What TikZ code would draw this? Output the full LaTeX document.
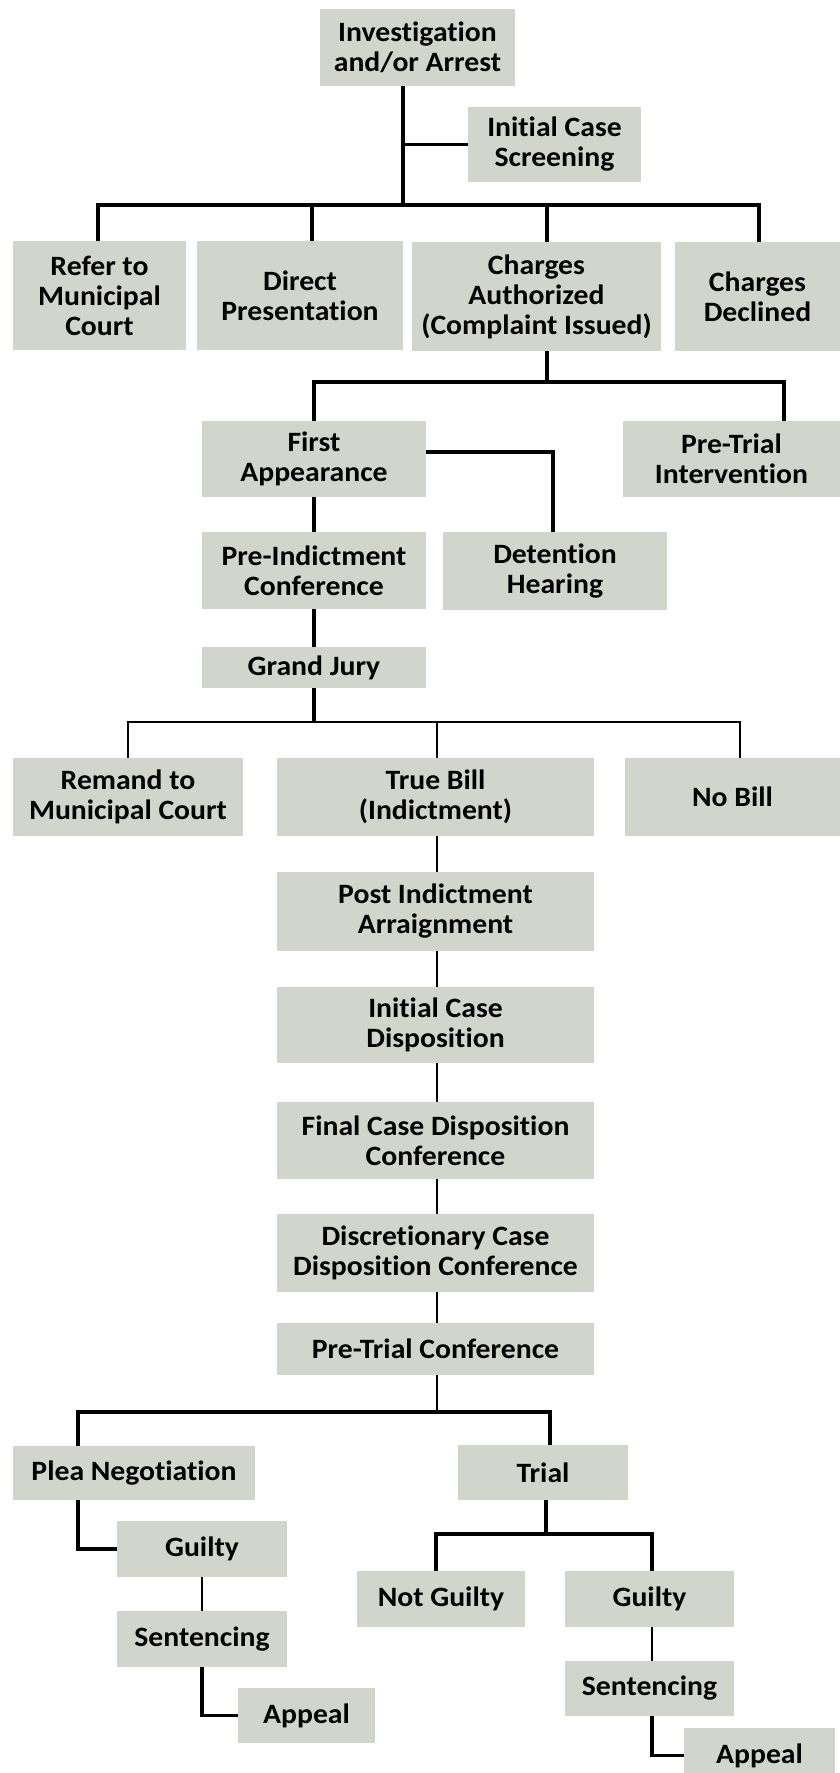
\documentclass[tikz,border=0pt]{standalone}
\usepackage{fontspec}
\setmainfont{Carlito}[FakeStretch=1.06,Ligatures=NoCommon]
\definecolor{boxfill}{RGB}{210,213,204}
\begin{document}
\begin{tikzpicture}[x=1pt,y=-1pt,
  bx/.style={fill=boxfill,draw=none,inner sep=0pt,align=center,
    font=\bfseries\fontsize{28}{30}\selectfont},
  thk/.style={line width=3.6pt},
  thn/.style={line width=2.2pt}]
\useasboundingbox[fill=white] (0,0) rectangle (840,1773);
% boxes
\node[bx,minimum width=195pt,minimum height=77pt] (inv) at (417.5,47.5) {Investigation\\and/or Arrest};
\node[bx,minimum width=173pt,minimum height=75pt] (ics) at (554.5,144.5) {Initial Case\\Screening};
\node[bx,minimum width=173pt,minimum height=109pt] (refer) at (99.5,295.5) {Refer to\\Municipal\\Court};
\node[bx,minimum width=206pt,minimum height=109pt] (direct) at (300,295.5) {Direct\\Presentation};
\node[bx,minimum width=249pt,minimum height=109pt] (auth) at (536.5,296.5) {Charges\\Authorized\\(Complaint Issued)};
\node[bx,minimum width=165pt,minimum height=109pt] (declined) at (757.5,296.5) {Charges\\Declined};
\node[bx,minimum width=224pt,minimum height=76pt] (first) at (314,459) {First\\Appearance};
\node[bx,minimum width=217pt,minimum height=76pt] (pti) at (731.5,459) {Pre-Trial\\Intervention};
\node[bx,minimum width=224pt,minimum height=77pt] (preind) at (314,570.5) {Pre-Indictment\\Conference};
\node[bx,minimum width=224pt,minimum height=78pt] (detention) at (555,571) {Detention\\Hearing};
\node[bx,minimum width=224pt,minimum height=41pt] (grand) at (314,667.5) {Grand Jury};
\node[bx,minimum width=230pt,minimum height=78pt] (remand) at (128,797) {Remand to\\Municipal Court};
\node[bx,minimum width=317pt,minimum height=78pt] (truebill) at (435.5,797) {True Bill\\(Indictment)};
\node[bx,minimum width=215pt,minimum height=78pt] (nobill) at (732.5,797) {No Bill};
\node[bx,minimum width=317pt,minimum height=79pt] (postind) at (435.5,911.5) {Post Indictment\\Arraignment};
\node[bx,minimum width=317pt,minimum height=76pt] (icd) at (435.5,1025) {Initial Case\\Disposition};
\node[bx,minimum width=317pt,minimum height=77pt] (fcd) at (435.5,1140.5) {Final Case Disposition\\Conference};
\node[bx,minimum width=317pt,minimum height=78pt] (dcd) at (435.5,1253) {Discretionary Case\\Disposition Conference};
\node[bx,minimum width=317pt,minimum height=52pt] (ptc) at (435.5,1349) {Pre-Trial Conference};
\node[bx,minimum width=242pt,minimum height=54pt] (plea) at (134,1473) {Plea Negotiation};
\node[bx,minimum width=170pt,minimum height=55pt] (trial) at (543,1472.5) {Trial};
\node[bx,minimum width=170pt,minimum height=56pt] (guiltyL) at (202,1549) {Guilty};
\node[bx,minimum width=170pt,minimum height=56pt] (sentL) at (202,1639) {Sentencing};
\node[bx,minimum width=137pt,minimum height=55pt] (appealL) at (306.5,1715.5) {Appeal};
\node[bx,minimum width=168pt,minimum height=56pt] (notg) at (441,1599) {Not Guilty};
\node[bx,minimum width=169pt,minimum height=56pt] (guiltyR) at (649.5,1599) {Guilty};
\node[bx,minimum width=169pt,minimum height=55pt] (sentR) at (649.5,1688.5) {Sentencing};
\node[bx,minimum width=151pt,minimum height=55pt] (appealR) at (759.5,1755.5) {Appeal};
% junctions
\coordinate (b1) at (403,205);
\coordinate (b2) at (547,382);
\coordinate (b3) at (314,722);
\coordinate (b4) at (437,1412);
\coordinate (b5) at (546,1534);
% connectors level 1
\draw[thk] (inv.south -| b1) -- (b1);
\draw[thk] (ics.west) -- (ics.west -| b1);
\draw[thk] ([xshift=-1.5pt]refer.north) |- ([xshift=1.5pt]declined.north |- b1) -- ([xshift=1.5pt]declined.north);
\draw[thk] ([xshift=12pt]direct.north) -- ([xshift=12pt]direct.north |- b1);
\draw[thk] ([xshift=10.5pt]auth.north) -- ([xshift=10.5pt]auth.north |- b1);
% level 2
\draw[thk] ([xshift=10.5pt]auth.south) -- (b2);
\draw[thk] (first.north) |- ([xshift=52.5pt]pti.north |- b2) -- ([xshift=52.5pt]pti.north);
\draw[thk] ([yshift=7pt]first.east) -| ([xshift=-2pt]detention.north);
\draw[thk] (first.south) -- (preind.north);
\draw[thk] (preind.south) -- (grand.north);
% grand jury
\draw[thk] (grand.south) -- (b3);
\draw[thn] (remand.north) |- ([xshift=7.5pt]nobill.north |- b3) -- ([xshift=7.5pt]nobill.north);
\draw[thn] ([xshift=1.5pt]truebill.north) -- ([xshift=1.5pt]truebill.north |- b3);
% main chain
\draw[thn] ([xshift=1.5pt]truebill.south) -- ([xshift=1.5pt]postind.north);
\draw[thn] ([xshift=1.5pt]postind.south) -- ([xshift=1.5pt]icd.north);
\draw[thn] ([xshift=1.5pt]icd.south) -- ([xshift=1.5pt]fcd.north);
\draw[thn] ([xshift=1.5pt]fcd.south) -- ([xshift=1.5pt]dcd.north);
\draw[thn] ([xshift=1.5pt]dcd.south) -- ([xshift=1.5pt]ptc.north);
% pre-trial split
\draw[thn] ([xshift=1.5pt]ptc.south) -- (b4);
\draw[thk] ([xshift=-56pt]plea.north) |- ([xshift=7pt]trial.north |- b4) -- ([xshift=7pt]trial.north);
% plea branch
\draw[thk] ([xshift=-56pt]plea.south) |- (guiltyL.west);
\draw[thn] (guiltyL.south) -- (sentL.north);
\draw[thk] (sentL.south) |- (appealL.west);
% trial branch
\draw[thk] ([xshift=3pt]trial.south) -- (b5);
\draw[thk] ([xshift=-5pt]notg.north) |- ([xshift=2.5pt]guiltyR.north |- b5) -- ([xshift=2.5pt]guiltyR.north);
\draw[thn] ([xshift=2.5pt]guiltyR.south) -- ([xshift=2.5pt]sentR.north);
\draw[thk] ([xshift=2.5pt]sentR.south) |- (appealR.west);
\end{tikzpicture}
\end{document}
